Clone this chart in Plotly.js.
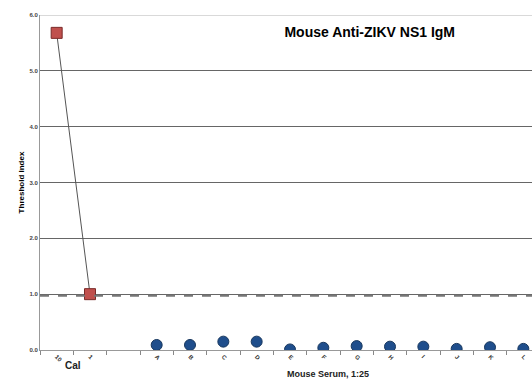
<!DOCTYPE html>
<html><head><meta charset="utf-8">
<script src="https://cdn.plot.ly/plotly-3.0.1.min.js"></script>
<style>html,body{margin:0;padding:0;background:#fff;}#chart{width:532px;height:381px;}</style>
</head><body><div id="chart"></div>
<script>
const categories = ["10","1"," ","A","B","C","D","E","F","G","H","I","J","K","L"];
const calX = ["10","1"];
const calY = [5.68, 1.0];
const sampleX = ["A","B","C","D","E","F","G","H","I","J","K","L"];
const sampleY = [0.09, 0.09, 0.15, 0.15, 0.01, 0.04, 0.07, 0.06, 0.06, 0.02, 0.05, 0.02];
const cutoff = 0.97;
const yTicks = [0,1,2,3,4,5,6];
const yTickText = ["0.0","1.0","2.0","3.0","4.0","5.0","6.0"];

const traces = [
  {x: calX, y: calY, type: "scatter", mode: "lines+markers",
   line: {color: "#555", width: 1},
   marker: {symbol: "square", size: 11, color: "#c0504d", line: {color: "#7a2a28", width: 1}},
   hoverinfo: "skip", showlegend: false},
  {x: sampleX, y: sampleY, type: "scatter", mode: "markers",
   marker: {symbol: "circle", size: 11, color: "#1f4e8c", line: {color: "#17375e", width: 1}},
   showlegend: false}
];

const layout = {
  width: 532, height: 381,
  margin: {l: 40, r: 0, t: 15, b: 31},
  paper_bgcolor: "#fff", plot_bgcolor: "#fff",
  title: {text: "<b>Mouse Anti-ZIKV NS1 IgM</b>", x: 0.695, xanchor: "center", y: 0.915, yanchor: "middle",
          font: {family: "Liberation Sans, Arial", size: 14, color: "#000"}},
  xaxis: {type: "category", categoryorder: "array", categoryarray: categories,
          tickvals: categories, ticktext: categories.map(c => "<b>" + c + "</b>"),
          range: [-0.5, 14.26], tickson: "boundaries", ticks: "outside", ticklen: 4, tickcolor: "#888",
          showgrid: false, showline: true, linecolor: "#999", linewidth: 1, zeroline: false,
          tickangle: 45, tickfont: {family: "Liberation Sans, Arial", size: 6, color: "#333"}},
  yaxis: {range: [0, 6], tickvals: yTicks, ticktext: yTickText.map(t => "<b>" + t + "</b>"), ticks: "", showgrid: true,
          gridcolor: "#666", gridwidth: 1, showline: true, linecolor: "#999", zeroline: false,
          tickfont: {family: "Liberation Sans, Arial", size: 6, color: "#444"},
          title: {text: "<b>Threshold Index</b>", standoff: 3, font: {family: "Liberation Sans, Arial", size: 8, color: "#000"}}},
  shapes: [
    {type: "line", xref: "paper", x0: 0, x1: 1, yref: "y", y0: cutoff, y1: cutoff,
     line: {color: "#777", width: 2, dash: "dash"}},
    {type: "line", xref: "paper", x0: 0, x1: 1, yref: "y", y0: 6, y1: 6,
     line: {color: "#ccc", width: 1.5}}
  ],
  annotations: [
    {text: "<b>Cal</b>", x: 0.5, xref: "x", y: -0.045, yref: "paper", yanchor: "middle", showarrow: false,
     font: {family: "Liberation Sans, Arial", size: 10, color: "#222"}},
    {text: "<b>Mouse Serum, 1:25</b>", x: 0.585, xref: "paper", xanchor: "center", y: -0.072, yref: "paper", yanchor: "middle", showarrow: false,
     font: {family: "Liberation Sans, Arial", size: 9, color: "#222"}}
  ]
};
Plotly.newPlot("chart", traces, layout, {displayModeBar: false, staticPlot: true});
</script></body></html>
